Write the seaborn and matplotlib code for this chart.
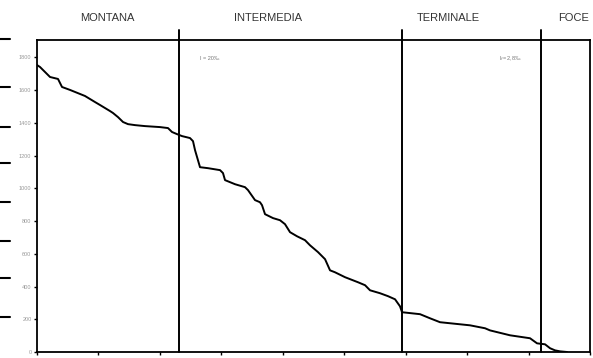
import numpy as np
import pandas as pd
import matplotlib
matplotlib.use("Agg")
import matplotlib.pyplot as plt
import seaborn as sns
from matplotlib.lines import Line2D

# profilo longitudinale: distanza dalla sorgente (m) e quota (m s.l.m.)
dist = [0, 490, 2120, 3420, 4070, 5370, 7810, 9440, 10250, 11880, 12370, 13180,
        14000, 14810, 15950, 17580, 20020, 21320, 21970, 22790, 23600, 24900,
        25390, 25720, 26530, 27830, 29790, 30270, 30600, 32230, 33850, 34340,
        35480, 36290, 36620, 37110, 38410, 39550, 40360, 41180, 42320, 43620,
        44430, 45740, 46880, 47690, 48500, 50130, 52250, 53390, 54200, 55830,
        57130, 58270, 59080, 59410, 62340, 63960, 65590, 70470, 72920, 73730,
        76990, 80240, 81380, 82680, 83500, 84310, 85120, 86260]
quota = [1753, 1741, 1680, 1668, 1619, 1601, 1564, 1527, 1509, 1472, 1460, 1435,
         1405, 1392, 1386, 1380, 1374, 1368, 1344, 1331, 1319, 1307,
         1288, 1233, 1129, 1123, 1111, 1093, 1050, 1025, 1007, 989,
         928, 915, 897, 842, 818, 805, 781, 732, 707, 683,
         652, 610, 567, 499, 487, 457, 426, 408, 377, 359,
         341, 322, 279, 243, 231, 206, 182, 163, 145, 132,
         102, 84, 53, 47, 23, 10, 4, 0]

# limiti dei tratti del fiume
limiti = [23100, 59400, 82000]
tratti = ["MONTANA", "INTERMEDIA", "TERMINALE", "FOCE"]
tratti_x = [11500, 37600, 67000, 87300]
pendenze = ["I = 20‰", "I$_f$= 2,8‰"]
pendenze_x = [26500, 75200]

x_ticks = np.arange(0, 90001, 10000)
y_ticks = np.arange(0, 1801, 200)

sns.set_style("white")
plt.rcParams['font.family'] = ['Liberation Sans', 'DejaVu Sans']

df = pd.DataFrame({'dist': dist, 'quota': quota})

fig = plt.figure(figsize=(5.93, 3.58), dpi=100)
ax = fig.add_axes([37/593, 6/358, 553/593, 312/358])

sns.lineplot(data=df, x='dist', y='quota', ax=ax, color='black', linewidth=1.4)

ax.set_xlim(0, 90000)
ax.set_ylim(0, 1906)
ax.set_xticks(x_ticks)
ax.set_yticks(y_ticks)
ax.set_xticklabels([str(v) for v in x_ticks])
ax.set_xlabel('')
ax.set_ylabel('')
ax.tick_params(axis='both', direction='out', length=2.5, width=1, colors='black',
               labelsize=4, labelcolor='#999999', pad=1.5, bottom=True, left=True)
for s in ax.spines.values():
    s.set_color('black')
    s.set_linewidth(1.3)

for x in limiti:
    ax.axvline(x, ymin=0, ymax=1.032, color='black', linewidth=1.4, clip_on=False)

for t, x in zip(tratti, tratti_x):
    ax.text(x, 2040, t, ha='center', va='center', fontsize=8, color='#333333')

for t, x in zip(pendenze, pendenze_x):
    ax.text(x, 1795, t, ha='left', va='center', fontsize=4, color='#777777')

# segni neri sul bordo sinistro
for yp in [39, 87, 127, 163, 202, 241, 278, 317]:
    fig.add_artist(Line2D([0, 10/593], [1 - yp/358] * 2, color='black', linewidth=1.5))

fig.savefig('out.png', dpi=100)
